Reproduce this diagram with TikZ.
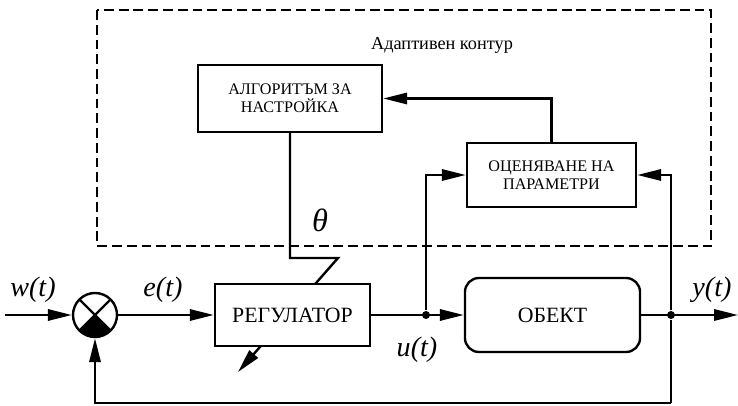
\documentclass[tikz,border=0pt]{standalone}
\usepackage{fontspec}
\setmainfont{Liberation Serif}
\usetikzlibrary{arrows.meta}

\begin{document}
\begin{tikzpicture}[x=0.025cm, y=-0.025cm, line width=1.7pt,
    block/.style={draw, fill=white, inner sep=0pt, align=center},
    smalltxt/.style={font=\fontsize{11.5}{12.5}\selectfont},
    bigtxt/.style={font=\fontsize{15.5}{16}\selectfont},
    arr/.style={-{Triangle[length=17pt, width=8pt]}},
    sig/.style={font=\fontsize{20}{20}\selectfont\itshape},
    dot/.style={circle, fill, inner sep=0pt, minimum size=0.2cm}]
    \useasboundingbox (0,0) rectangle (738,406);

    % Adaptive loop boundary
    \draw[line width=1pt, dash pattern=on 7pt off 3.5pt] (97,10) rectangle (711,246);
    \node[font=\fontsize{13}{14}\selectfont] (adlabel) at (442,45) {Адаптивен контур};

    % Blocks of the adaptive part
    \node[block, smalltxt, minimum width=4.6cm, minimum height=1.675cm] (algo) at (290,98.5) {АЛГОРИТЪМ ЗА\\НАСТРОЙКА};
    \node[block, smalltxt, minimum width=4.225cm, minimum height=1.6cm] (est) at (551.5,175) {ОЦЕНЯВАНЕ НА\\ПАРАМЕТРИ};

    % Main loop
    \node[draw, circle, minimum size=1.1cm, inner sep=0pt,
        path picture={
            \fill (path picture bounding box.center) -- (path picture bounding box.south west)
                -- (path picture bounding box.south east) -- cycle;
            \draw (path picture bounding box.north west) -- (path picture bounding box.south east);
            \draw (path picture bounding box.north east) -- (path picture bounding box.south west);
        }] (sum) at (95,315) {};
    \node[block, bigtxt, rounded corners=0.35cm, minimum width=4.375cm, minimum height=1.85cm] (obj) at (552.5,315) {ОБЕКТ};

    % Tuning signal theta, passing through the regulator
    \coordinate (kink) at (338,258);
    \coordinate (tune) at (238,372);
    \draw[arr] (algo.south) |- (kink) -- (tune);
    \node[block, bigtxt, minimum width=3.875cm, minimum height=1.55cm] (reg) at (292.5,315) {РЕГУЛАТОР};

    \coordinate (in) at (5,315);
    \coordinate (out) at (738,315);
    \node[dot] (ubr) at (426,315) {};
    \node[dot] (ybr) at (671,315) {};
    \coordinate (fb) at (671,403);

    \draw[arr] (in) -- (sum.west);
    \draw[arr] (sum.east) -- (reg.west);
    \draw[arr] (reg.east) -- (obj.west);
    \draw[arr] (obj.east) -- (out);
    \draw (ybr) -- (fb);
    \draw[arr] (fb) -| (sum.south);

    % Inputs of the estimator and its output
    \draw[arr] (ubr) |- (est.west);
    \draw[arr] (ybr) |- (est.east);
    \draw[arr] (est.north) |- (algo.east);

    % Signal labels
    \node[sig] (wlab) at (33,290) {w(t)};
    \node[sig] (elab) at (163,290) {e(t)};
    \node[sig] (ulab) at (417,350) {u(t)};
    \node[sig] (ylab) at (712,290) {y(t)};
    \node[font=\fontsize{23}{23}\selectfont\itshape] (thlab) at (320,220) {θ};
\end{tikzpicture}
\end{document}
